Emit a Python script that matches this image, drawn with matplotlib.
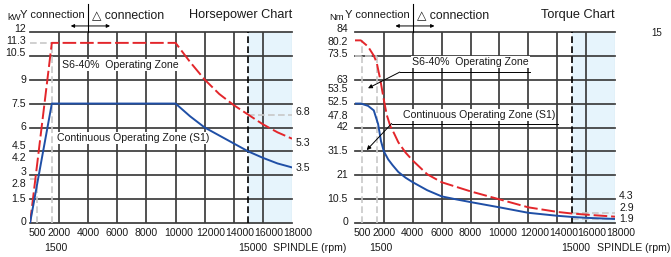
"""
Spindle motor charts: horsepower (kW) and torque (Nm) vs spindle speed.
"""
import matplotlib
matplotlib.use("Agg")
import matplotlib.pyplot as plt
import matplotlib.transforms as mtransforms

plt.rcParams["font.family"] = ["Liberation Sans", "DejaVu Sans"]

# ---- data ---------------------------------------------------------------
x_grid = [2000, 4000, 6000, 8000, 10000, 12000, 14000, 16000]
x_labels_top = [500, 2000, 4000, 6000, 8000, 10000, 12000, 14000, 16000, 18000]
x_labels_bot = [1500, 15000]

hp_grid = [0, 1.5, 3, 4.5, 6, 7.5, 9, 10.5, 12]
hp_ticks = [0, 1.5, 2.8, 3, 4.2, 4.5, 6, 7.5, 9, 10.5, 11.3, 12]
hp_end_ticks = [6.8, 5.3, 3.5]
hp_rpm = [0, 1500, 10000, 11000, 12000, 13000, 14000, 15000, 16000, 17000, 18000]
hp_s6 = [0, 11.3, 11.3, 10.1, 9.0, 8.1, 7.4, 6.8, 6.2, 5.7, 5.3]
hp_s1 = [0, 7.5, 7.5, 6.7, 6.0, 5.5, 5.0, 4.5, 4.1, 3.75, 3.5]

tq_grid = [0, 10.5, 21, 31.5, 42, 52.5, 63, 73.5, 84]
tq_ticks = [0, 10.5, 21, 31.5, 42, 47.8, 52.5, 53.5, 63, 73.5, 80.2, 84]
tq_end_ticks = [4.3, 2.9, 1.9]
tq_s6_rpm = [0, 400, 900, 1300, 1500, 1750, 2000, 2200, 2450, 2700, 3000, 3500, 4000,
             5000, 6000, 7000, 8000, 10000, 12000, 14000, 15000, 16000, 18000]
tq_s6 = [80.2, 80.2, 77.5, 73.5, 70.5, 63, 54, 47.5, 42.5, 39.5, 35.5, 31, 27.5,
         21.5, 18, 16, 14, 10.5, 7, 5, 4.3, 3.8, 2.9]
tq_s1_rpm = [0, 400, 900, 1300, 1600, 1800, 2000, 2300, 2600, 3000, 3500, 4000,
             5000, 6000, 7000, 8000, 10000, 12000, 14000, 15000, 16000, 18000]
tq_s1 = [52.5, 52.5, 51.5, 49.5, 43.5, 36, 31.5, 28, 25.5, 22.5, 20, 18,
         14.5, 11.8, 10.5, 9.3, 7, 4.6, 3.3, 2.8, 2.4, 1.9]

RED = "#e3262b"
BLUE = "#1f4fa6"
GRID = "#3c3c3c"
LIGHT = "#c8c8c8"
SHADE = "#e6f4fc"
TXT = "#1a1a1a"
FS = 7.6
BOX = dict(facecolor="white", edgecolor="none", pad=0.6)

fig = plt.figure(figsize=(6.71, 2.57), dpi=100)
ax_hp = fig.add_axes([30 / 671, 33.7 / 257, 262 / 671, 191.6 / 257])
ax_tq = fig.add_axes([355 / 671, 33.7 / 257, 260 / 671, 191.6 / 257])


def off(tr, dx=0, dy=0):
    return mtransforms.offset_copy(tr, fig=fig, x=dx, y=dy, units="dots")


def base_chart(ax, ygrid, ymax):
    ax.set_xlim(0, 18000)
    ax.set_ylim(0, ymax)
    ax.axis("off")
    ax.axvspan(15000, 18000, color=SHADE, zorder=0, lw=0)
    for y in ygrid:
        ax.axhline(y, color=GRID, lw=1.25, zorder=1, clip_on=False)
    for x in x_grid:
        ax.axvline(x, color=GRID, lw=1.25, zorder=1)
    ax.axvline(18000, color="#a9c0d0", lw=0.8, zorder=1)
    ax.axvline(15000, color="k", lw=1.2, dashes=(4, 2), zorder=4)

    bx = ax.get_xaxis_transform()
    xoff = {10000: 3, 12000: 6, 14000: 6, 16000: 6, 18000: 6}
    for x in x_labels_top:
        ax.text(x, 0, f"{x}", transform=off(bx, xoff.get(x, 0), -10), ha="center",
                va="center", fontsize=FS, color=TXT)
    for x in x_labels_bot:
        ax.text(x, 0, f"{x}", transform=off(bx, 4, -24.5), ha="center",
                va="center", fontsize=FS, color=TXT)
    ax.text(15000, 0, "SPINDLE (rpm)", transform=off(bx, 25, -24.5), ha="left",
            va="center", fontsize=FS, color=TXT)


def y_labels(ax, ticks, ends, yoff, end_off, pad):
    by = ax.get_yaxis_transform()
    for y in ticks:
        ax.text(0, y, f"{y:g}", transform=off(by, -pad, yoff.get(y, 0)), ha="right",
                va="center", fontsize=FS, color=TXT)
    for y in ends:
        ax.text(1, y, f"{y:g}", transform=off(by, 4, end_off.get(y, 0)), ha="left",
                va="center", fontsize=FS, color=TXT)


def header(ax, unit, title, upad):
    bx = ax.get_xaxis_transform()
    ax.text(0, 1.088, unit, transform=off(ax.transAxes, -upad, -3), ha="center",
            va="center", fontsize=6.8, color=TXT)
    ax.text(4000, 1.088, "Y connection", transform=off(bx, -3, 0), ha="right",
            va="center", fontsize=8, color=TXT)
    ax.text(4000, 1.088, "\u25b3 connection", transform=off(bx, 4, 0), ha="left",
            va="center", fontsize=8.8, color=TXT)
    ax.plot([4000, 4000], [1.0, 1.145], transform=bx, color="k", lw=0.8, clip_on=False)
    ax.annotate("", xy=(2800, 1.03), xytext=(5500, 1.03), xycoords=bx, textcoords=bx,
                arrowprops=dict(arrowstyle="<|-|>", color="k", lw=0.7, mutation_scale=5,
                                shrinkA=0, shrinkB=0), annotation_clip=False)
    ax.text(1.0, 1.088, title, transform=ax.transAxes, ha="right", va="center",
            fontsize=9.2, color=TXT)


# ---- horsepower chart ---------------------------------------------------
base_chart(ax_hp, hp_grid, 12)
kw = dict(color=LIGHT, lw=1.2, dashes=(4, 2), zorder=2)
ax_hp.plot([1500, 1500], [0, 11.3], **kw)
ax_hp.plot([0, 1500], [11.3, 11.3], **kw)
ax_hp.plot([500, 500], [0, 2.8], **kw)
ax_hp.plot([0, 500], [2.8, 2.8], **kw)
ax_hp.plot([15000, 18000], [6.8, 6.8], **kw)
ax_hp.plot(hp_rpm, hp_s6, color=RED, lw=1.4, dashes=(7, 2), zorder=5)
ax_hp.plot(hp_rpm, hp_s1, color=BLUE, lw=1.4, zorder=5)
ax_hp.text(2200, 9.9, "S6-40%  Operating Zone", fontsize=FS, va="center", color=TXT,
           bbox=BOX, zorder=3)
ax_hp.text(1850, 5.35, "Continuous Operating Zone (S1)", fontsize=FS, va="center", color=TXT,
           bbox=BOX, zorder=3)
y_labels(ax_hp, hp_ticks, hp_end_ticks,
         {12: 2.5, 11.3: 2, 10.5: 2.5, 4.5: 5, 4.2: -2, 3: 3, 2.8: -5, 0: 1.5},
         {6.8: 3, 5.3: -4, 3.5: -1}, 4)
header(ax_hp, "kW", "Horsepower Chart", 16)

# ---- torque chart -------------------------------------------------------
base_chart(ax_tq, tq_grid, 84)
ax_tq.plot([500, 500], [0, 80.2], **kw)
ax_tq.plot([1500, 1500], [0, 73.5], **kw)
ax_tq.plot([0, 1500], [73.5, 73.5], **kw)
ax_tq.plot([15000, 18000], [4.3, 4.3], **kw)
ax_tq.plot([15000, 18000], [1.9, 1.9], **kw)
ax_tq.plot(tq_s6_rpm, tq_s6, color=RED, lw=1.4, dashes=(7, 2), zorder=5)
ax_tq.plot(tq_s1_rpm, tq_s1, color=BLUE, lw=1.4, zorder=5)

arr = dict(arrowstyle="-|>", color="k", lw=0.7, mutation_scale=6, shrinkA=0, shrinkB=0)
ax_tq.text(3950, 70.6, "S6-40%  Operating Zone", fontsize=FS, va="center", color=TXT,
           bbox=BOX, zorder=3)
ax_tq.plot([3100, 12100], [66.3, 66.3], color="k", lw=0.7, zorder=6)
ax_tq.annotate("", xy=(900, 59.2), xytext=(3100, 66.3), arrowprops=arr, zorder=6)
ax_tq.text(3320, 47.5, "Continuous Operating Zone (S1)", fontsize=FS, va="center", color=TXT,
           bbox=BOX, zorder=3)
ax_tq.plot([2540, 14080], [43.75, 43.75], color="k", lw=0.7, zorder=6)
ax_tq.annotate("", xy=(810, 32.1), xytext=(2540, 43.75), arrowprops=arr, zorder=6)

y_labels(ax_tq, tq_ticks, tq_end_ticks,
         {84: 2.5, 80.2: -1.5, 73.5: 2, 53.5: 12, 52.5: 2, 47.8: -2, 0: 1.5},
         {4.3: 17, 2.9: 9, 1.9: 0}, 7)
header(ax_tq, "Nm", "Torque Chart", 18)

fig.text(657 / 671, 1 - 33 / 257, "15", fontsize=7, color=TXT, ha="center", va="center")

fig.savefig("out.png", dpi=100)
